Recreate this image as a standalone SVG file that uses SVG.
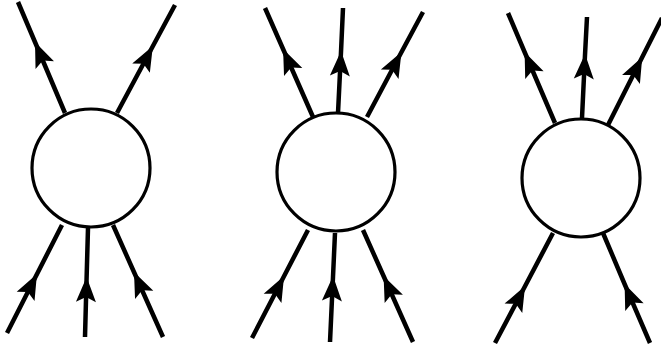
<svg xmlns="http://www.w3.org/2000/svg" width="661" height="353" viewBox="0 0 661 353">
<style>
.node{fill:#fff;stroke:#000;stroke-width:3.2}
.edge{fill:none;stroke:#000;stroke-width:4.5;stroke-linecap:butt;marker-mid:url(#ah)}
</style>
<defs>
<marker id="ah" markerUnits="userSpaceOnUse" viewBox="-28 -12 30 24" markerWidth="30" markerHeight="24" refX="0" refY="0" orient="auto" overflow="visible">
<path d="M1,0 L-24,-10 L-19,0 L-24,10 Z" fill="#000"/>
</marker>
</defs>
<rect width="661" height="353" fill="#fff"/>
<g id="connectors">
<path class="edge" d="M65,113 L35.4,43 L18,2"/>
<path class="edge" d="M117,113 L152.4,47 L175,5"/>
<path class="edge" d="M7,333 L36.5,275 L62,225"/>
<path class="edge" d="M85,337 L86.6,278 L88,228"/>
<path class="edge" d="M163,337 L134.4,273 L113,225"/>
<path class="edge" d="M313,117 L283.5,50 L265,8"/>
<path class="edge" d="M338,113 L341,52 L343,8"/>
<path class="edge" d="M367,117 L401,53 L423,12"/>
<path class="edge" d="M252,338 L283.6,277 L308,230"/>
<path class="edge" d="M330,342 L333,277 L335,233"/>
<path class="edge" d="M413,342 L384,277 L363,230"/>
<path class="edge" d="M555,123 L525,53 L508,13"/>
<path class="edge" d="M582,118 L585,55 L587,17"/>
<path class="edge" d="M608,125 L641.8,58 L662,18"/>
<path class="edge" d="M495,343 L524.6,287 L553,233"/>
<path class="edge" d="M650,343 L625,285 L603,233"/>
</g>
<g id="vertex1"><circle class="node" cx="91" cy="168" r="59"/></g>
<g id="vertex2"><circle class="node" cx="336" cy="172" r="59"/></g>
<g id="vertex3"><circle class="node" cx="581" cy="178" r="59"/></g>
</svg>
